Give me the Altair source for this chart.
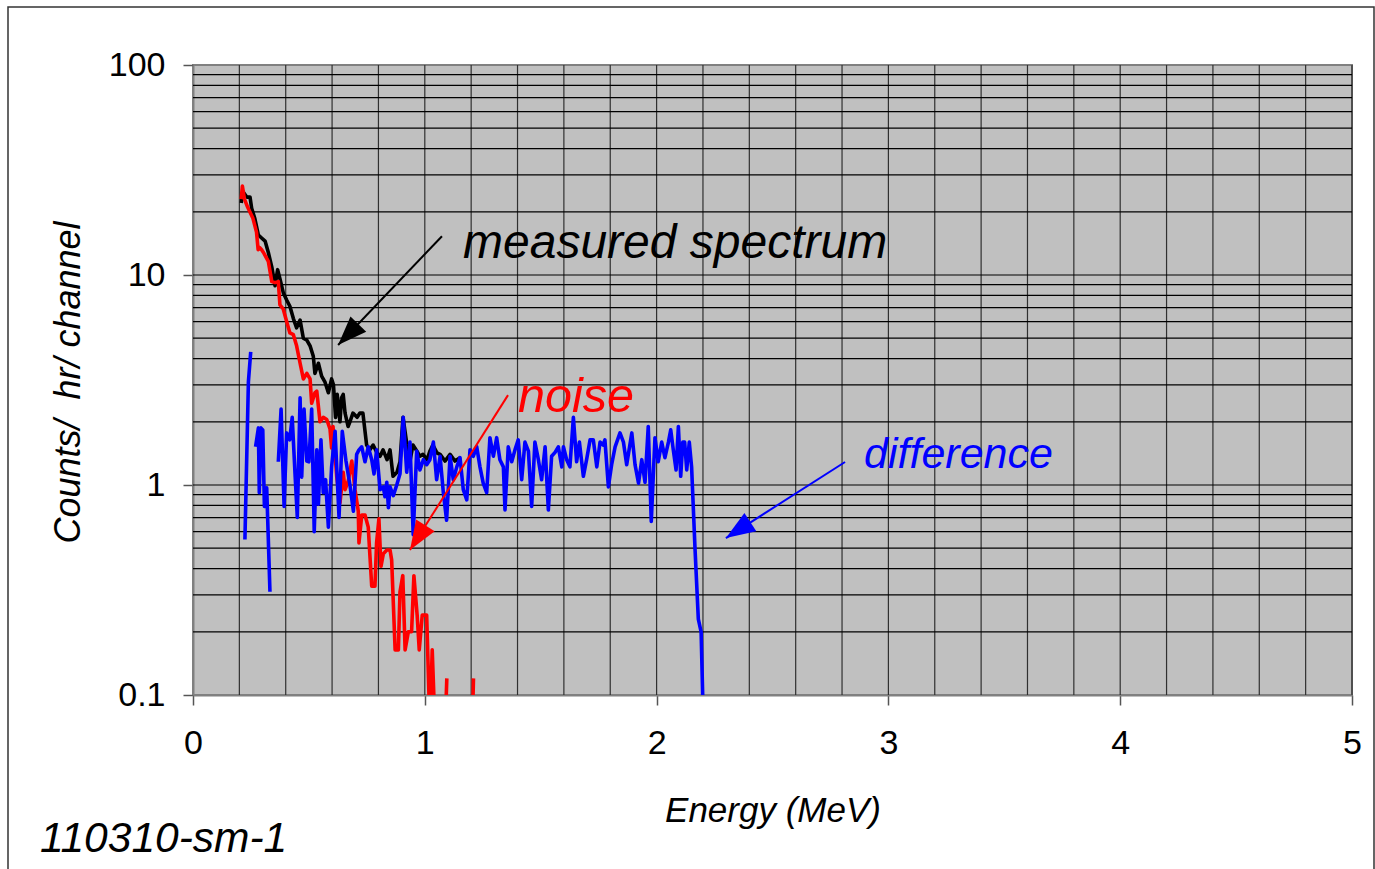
import altair as alt
import pandas as pd

# ---------------- data ----------------
measured_E = [0.208, 0.215, 0.232, 0.246, 0.253, 0.267, 0.282, 0.296, 0.311, 0.325,
              0.340, 0.354, 0.365, 0.375, 0.390, 0.404, 0.418, 0.433, 0.447, 0.462,
              0.476, 0.491, 0.505, 0.519, 0.526, 0.541, 0.555, 0.569, 0.584, 0.598,
              0.606, 0.615, 0.622, 0.634, 0.641, 0.648, 0.656, 0.669, 0.677, 0.690,
              0.708, 0.720, 0.733, 0.749, 0.763, 0.777, 0.794, 0.807, 0.820, 0.837,
              0.850, 0.863, 0.880, 0.893, 0.906, 0.923, 0.936, 0.949, 0.966, 0.979,
              0.992, 1.010, 1.022, 1.035, 1.053, 1.066, 1.087, 1.109, 1.130, 1.152]
measured_v = [22, 25, 23.5, 23.5, 20.8, 18.5, 15.5, 15, 14.5, 12.8,
              10.9, 8.9, 10.6, 9.6, 8.2, 7.6, 7.1, 6.2, 5.6, 6.1,
              5.0, 4.9, 4.6, 4.1, 3.4, 3.8, 3.3, 3.1, 2.75, 3.2,
              3.0, 2.1, 2.7, 2.0, 2.6, 2.7, 2.2, 1.9, 2.0, 2.2,
              2.1, 2.2, 2.2, 1.55, 1.47, 1.55, 1.42, 1.37, 1.47, 1.32,
              1.47, 1.1, 1.15, 1.29, 2.1, 1.55, 1.3, 1.55, 1.45, 1.37,
              1.4, 1.32, 1.45, 1.55, 1.42, 1.4, 1.3, 1.4, 1.3, 1.35]

noise_E = [0.208, 0.213, 0.222, 0.236, 0.258, 0.274, 0.281, 0.288, 0.296, 0.304,
           0.325, 0.340, 0.354, 0.368, 0.375, 0.389, 0.404, 0.418, 0.433, 0.447,
           0.462, 0.476, 0.491, 0.505, 0.512, 0.526, 0.534, 0.548, 0.562, 0.577,
           0.591, 0.598, 0.604, 0.620, 0.634, 0.648, 0.656, 0.670, 0.685, 0.699,
           0.713, 0.716, 0.728, 0.742, 0.756, 0.771, 0.785, 0.792, 0.802, 0.811,
           0.821, 0.836, 0.850, 0.857, 0.872, 0.886, 0.893, 0.905, 0.915, 0.929,
           0.943, 0.953, 0.967, 0.976, 0.989, 1.008, 1.022, 1.032, 1.044, 1.050,
           1.088, 1.095, 1.100, 1.205, 1.210, 1.215]
noise_v = [23, 26.5, 23, 21, 18.7, 16, 13.2, 13.5, 13.2, 12.8,
           11.6, 9.3, 9.2, 9.3, 7.2, 6.9, 6.0, 5.3, 5.2, 4.6,
           3.8, 3.2, 3.4, 3.2, 2.45, 2.75, 2.8, 2.0, 2.1, 2.05,
           1.85, 1.5, 1.9, 1.1, 0.82, 1.15, 0.95, 1.05, 1.3, 0.95,
           0.75, 0.53, 0.72, 0.72, 0.63, 0.33, 0.33, 0.53, 0.69, 0.41,
           0.47, 0.49, 0.49, 0.44, 0.164, 0.164, 0.31, 0.37, 0.164, 0.2,
           0.2, 0.37, 0.24, 0.164, 0.24, 0.24, 0.07, 0.164, 0.07, None,
           0.07, 0.12, None, 0.07, 0.12, None]

diff_E = [0.224, 0.239, 0.249, 0.255, 0.270, 0.282, 0.286, 0.293, 0.301, 0.308,
          0.318, 0.332, 0.345, 0.368, 0.380, 0.393, 0.404, 0.417, 0.428, 0.440,
          0.450, 0.462, 0.469, 0.479, 0.491, 0.500, 0.512, 0.523, 0.534, 0.541,
          0.552, 0.562, 0.572, 0.584, 0.598, 0.613, 0.630, 0.644, 0.660, 0.677,
          0.692, 0.706, 0.716, 0.728, 0.742, 0.756, 0.771, 0.781, 0.792, 0.807,
          0.821, 0.828, 0.836, 0.843, 0.850, 0.864, 0.879, 0.893, 0.907, 0.922,
          0.936, 0.950, 0.965, 0.979, 0.994, 1.008, 1.022, 1.037, 1.051, 1.066,
          1.080, 1.094, 1.109, 1.123, 1.138, 1.152, 1.166, 1.181, 1.195, 1.209,
          1.224, 1.238, 1.252, 1.267, 1.281, 1.296, 1.310, 1.324, 1.339, 1.346,
          1.360, 1.375, 1.389, 1.403, 1.418, 1.432, 1.447, 1.461, 1.475, 1.490,
          1.504, 1.519, 1.533, 1.547, 1.562, 1.576, 1.591, 1.598, 1.612, 1.626,
          1.641, 1.655, 1.667, 1.684, 1.698, 1.713, 1.727, 1.742, 1.756, 1.769,
          1.777, 1.792, 1.806, 1.821, 1.842, 1.857, 1.871, 1.893, 1.907, 1.922,
          1.936, 1.950, 1.964, 1.977, 1.993, 2.007, 2.022, 2.036, 2.051, 2.061,
          2.072, 2.084, 2.094, 2.104, 2.113, 2.121, 2.130, 2.141, 2.151, 2.166,
          2.180, 2.192, 2.199]
diff_v = [0.55, 3.1, 4.3, None, 1.52, 1.87, 0.92, 1.87, 1.83, 0.79,
          0.97, 0.31, None, 1.29, 2.3, 0.79, 1.77, 1.64, 2.1, 1.14,
          0.7, 2.6, 1.09, 2.3, 1.3, 1.29, 2.3, 0.6, 1.47, 0.81,
          1.64, 0.92, 1.06, 0.63, 1.22, 1.8, 0.7, 1.8, 1.3, 1.0,
          0.75, 1.4, 1.47, 1.52, 1.29, 1.52, 1.32, 1.13, 1.47, 0.95,
          0.98, 0.88, 1.03, 0.78, 0.98, 0.89, 1.0, 1.13, 2.1, 1.15,
          1.6, 0.58, 1.45, 1.18, 1.32, 1.25, 1.32, 1.6, 1.06, 1.37,
          0.92, 0.68, 1.37, 1.06, 1.22, 1.35, 0.95, 0.85, 1.47, 1.37,
          1.52, 1.22, 1.02, 0.92, 1.68, 1.37, 1.68, 1.32, 1.22, 0.76,
          1.52, 1.29, 1.47, 1.64, 1.06, 1.6, 1.45, 0.79, 1.6, 1.32,
          1.06, 1.52, 0.76, 1.37, 1.43, 1.52, 1.22, 1.52, 1.32, 1.22,
          2.1, 1.29, 1.6, 1.1, 1.32, 1.64, 1.64, 1.22, 1.6, 1.55,
          1.64, 0.98, 1.25, 1.52, 1.77, 1.6, 1.25, 1.77, 1.25, 1.02,
          1.32, 1.03, 1.9, 0.67, 1.68, 1.29, 1.6, 1.35, 1.6, 1.83,
          1.47, 1.18, 1.9, 1.1, 1.6, 1.6, 1.18, 1.6, 1.22, 0.49,
          0.23, 0.2, 0.098]

x_ticks = [0, 1, 2, 3, 4, 5]
y_ticks = [0.1, 1, 10, 100]
grid_x = [round(0.2 * i, 1) for i in range(1, 26)]
grid_y = [m * 10 ** d for d in (-1, 0, 1) for m in range(2, 10)] + [1, 10]

label_text = ["measured spectrum", "noise", "difference"]
label_E = [1.165, 1.402, 2.895]
label_v = [12.05, 2.23, 1.205]
label_color = ["#000000", "#FF0000", "#0000FF"]
label_size = [48, 48.5, 43]

arrow_E1 = [1.074, 1.359, 2.813]
arrow_v1 = [15.3, 2.68, 1.287]
arrow_E2 = [0.626, 0.936, 2.299]
arrow_v2 = [4.64, 0.49, 0.559]
arrow_color = ["#000000", "#FF0000", "#0000FF"]
arrow_angle = [224, 212, 237]

FONT = "Liberation Sans, Arial, sans-serif"

# ---------------- scales / axes ----------------
xs = alt.Scale(domain=[0, 5], nice=False, zero=False)
ys = alt.Scale(type="log", domain=[0.1, 100], nice=False)

x_axis = alt.Axis(values=x_ticks, format="d", grid=False, tickSize=10,
                  tickColor="#555555", tickWidth=1.5, domainColor="#808080",
                  domainWidth=2, labelFont=FONT, labelFontSize=34,
                  labelColor="black", labelPadding=21, labelFlush=False,
                  labelOverlap=False, title="Energy (MeV)", titleFont=FONT,
                  titleFontSize=35, titleFontStyle="italic",
                  titleFontWeight="normal", titleColor="black",
                  titleX=579.5, titleY=126, titleAlign="center",
                  titleBaseline="alphabetic")
y_axis = alt.Axis(values=y_ticks, format="~g", grid=False, tickSize=10,
                  tickColor="#555555", tickWidth=1.5, domainColor="#808080",
                  domainWidth=2, labelFont=FONT, labelFontSize=34,
                  labelColor="black", labelPadding=18, labelFlush=False,
                  labelOverlap=False, title="Counts/\u00a0 hr/ channel",
                  titleFont=FONT, titleFontSize=36, titleFontStyle="italic",
                  titleFontWeight="normal", titleColor="black",
                  titleX=-125, titleY=317, titleAngle=270,
                  titleAlign="center", titleBaseline="middle")

x_enc = alt.X("E:Q", scale=xs, axis=x_axis)
y_enc = alt.Y("v:Q", scale=ys, axis=y_axis)

# ---------------- layers ----------------
gx = alt.Chart(pd.DataFrame({"E": grid_x})).mark_rule(
    color="#303030", strokeWidth=1.2).encode(x=x_enc)
gy = alt.Chart(pd.DataFrame({"v": grid_y})).mark_rule(
    color="#000000", strokeWidth=1.2).encode(y=y_enc)


def series(E, v, color):
    df = pd.DataFrame({"E": E, "v": v})
    return alt.Chart(df).mark_line(
        color=color, strokeWidth=3.6, clip=True, strokeJoin="round",
        invalid="break-paths-filter-domains").encode(x=x_enc, y=y_enc)


black = series(measured_E, measured_v, "#000000")
red = series(noise_E, noise_v, "#FF0000")
blue = series(diff_E, diff_v, "#0000FF")

arrows_df = pd.DataFrame({"E": arrow_E1, "v": arrow_v1, "E2": arrow_E2,
                          "v2": arrow_v2, "c": arrow_color})
arrows = alt.Chart(arrows_df).mark_rule(strokeWidth=2).encode(
    x=x_enc, y=y_enc, x2="E2:Q", y2="v2:Q",
    color=alt.Color("c:N", scale=None))

heads_df = pd.DataFrame({"E": arrow_E2, "v": arrow_v2, "c": arrow_color,
                         "a": arrow_angle})
heads = alt.Chart(heads_df).mark_point(
    shape="M0,0 L-0.75,2 L0.75,2 Z", filled=True, size=850, opacity=1,
    strokeWidth=0).encode(
    x=x_enc, y=y_enc, color=alt.Color("c:N", scale=None),
    angle=alt.Angle("a:Q", scale=None))

labels_df = pd.DataFrame({"E": label_E, "v": label_v, "t": label_text,
                          "c": label_color, "s": label_size})
labels = alt.Chart(labels_df).mark_text(
    align="left", baseline="alphabetic", font=FONT, fontStyle="italic").encode(
    x=x_enc, y=y_enc, text="t:N", color=alt.Color("c:N", scale=None),
    size=alt.Size("s:Q", scale=None))

caption = alt.Chart(pd.DataFrame({"t": ["110310-sm-1"]})).mark_text(
    align="left", baseline="alphabetic", font=FONT, fontStyle="italic",
    fontSize=42.5, color="black").encode(
    text="t:N", x=alt.value(-153), y=alt.value(787))

frame = alt.Chart(pd.DataFrame({"k": [0]})).mark_rect(
    fillOpacity=0, stroke="#333333", strokeWidth=1.5).encode(
    x=alt.value(-185), x2=alt.value(1181), y=alt.value(-58), y2=alt.value(830))

chart = alt.layer(gx, gy, black, red, blue, arrows, heads, labels, caption,
                  frame).properties(
    width=1159, height=630,
    padding={"left": 193, "top": 65, "right": 23, "bottom": 174},
    autosize=alt.AutoSizeParams(type="none"),
    background="white",
).configure_view(fill="#C0C0C0", stroke="#808080", strokeWidth=2)

chart.save("out.html", embed_options={"renderer": "svg", "actions": False})
